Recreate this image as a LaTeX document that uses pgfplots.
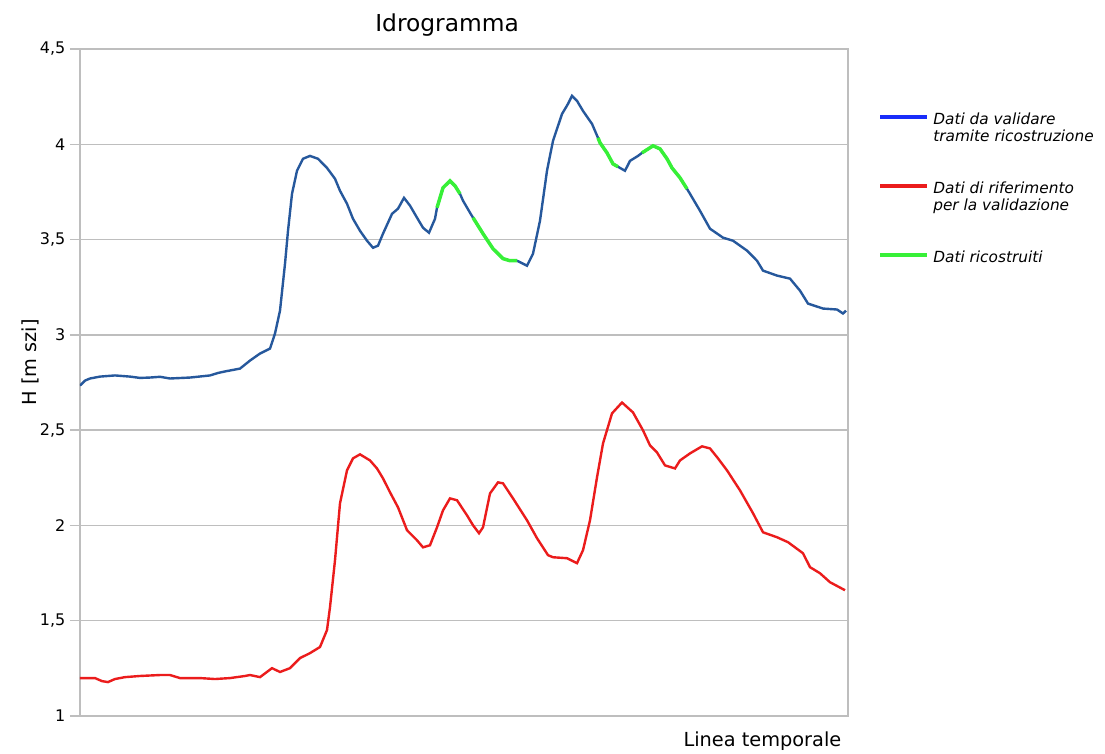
\documentclass[border=0pt]{standalone}
\usepackage{fontspec}
\setmainfont{DejaVu Sans}
\usepackage{pgfplots}
\pgfplotsset{compat=1.18}
\definecolor{bluecurve}{RGB}{38,88,156}
\definecolor{redcurve}{RGB}{235,28,28}
\definecolor{greencurve}{RGB}{55,240,55}
\definecolor{legblue}{RGB}{25,45,250}
\definecolor{gridgray}{RGB}{190,190,190}
\begin{document}
\begin{tikzpicture}
\path[use as bounding box] (-60pt,-27.75pt) rectangle (768.75pt,537pt);
\begin{axis}[
  at={(0,0)}, anchor=south west,
  scale only axis, width=576pt, height=500.25pt,
  xmin=0, xmax=768, ymin=1, ymax=4.5,
  xtick=\empty,
  ytick={1,1.5,2,2.5,3,3.5,4,4.5},
  axis line style={draw=gridgray, line width=1.2pt},
  ymajorgrids, grid style={gridgray, line width=1.1pt},
  tick pos=left, tick align=outside, major tick length=7.5pt,
  ytick style={gridgray, line width=1.1pt},
  yticklabel style={font=\fontsize{12}{14}\selectfont, /pgf/number format/.cd, use comma, fixed, assume math mode=true},
  title={Idrogramma},
  title style={at={(axis description cs:0.478,1)}, anchor=base, yshift=6.75pt, font=\fontsize{17.5}{20}\selectfont},
  xlabel={Linea temporale},
  xlabel style={at={(axis description cs:1,0)}, anchor=base east, xshift=-1.5pt, yshift=-22.5pt, font=\fontsize{14.5}{16}\selectfont},
  ylabel={H [m szi]},
  ylabel style={at={(axis description cs:-0.0651,0.53)}, anchor=center, font=\fontsize{14.5}{16}\selectfont},
  legend style={at={(axis description cs:1.0391,0.9085)}, anchor=north west, draw=none, fill=none, inner sep=0pt,
    font=\itshape\fontsize{11.5}{13}\selectfont, cells={anchor=base west, align=left}, row sep=24.5pt, column sep=1pt},
  legend image code/.code={\draw[#1] (0pt,5.5pt) -- (35.25pt,5.5pt);},
]
\addlegendimage{legblue, line width=3pt, yshift=13pt}
\addlegendentry{Dati da validare\\tramite ricostruzione}
\addlegendimage{redcurve, line width=3pt, yshift=13pt}
\addlegendentry{Dati di riferimento\\per la validazione}
\addlegendimage{greencurve, line width=3pt}
\addlegendentry{Dati ricostruiti}

\addplot[bluecurve, line width=1.8pt, forget plot] coordinates {
(0,2.734) (5,2.760) (10,2.771) (20,2.781) (35,2.787) (50,2.781) (60,2.774) (70,2.776) (80,2.780)
(90,2.771) (110,2.776) (130,2.787) (138,2.800) (145,2.808) (160,2.823) (170,2.865) (180,2.902)
(190,2.928) (195,3.007) (200,3.127) (205,3.373) (208,3.546) (212,3.740) (217,3.861) (223,3.924)
(230,3.939) (238,3.924) (247,3.876) (255,3.819) (260,3.756) (267,3.688) (273,3.609) (280,3.546)
(287,3.494) (293,3.457) (298,3.468) (303,3.531) (312,3.635) (318,3.662) (324,3.719) (330,3.678)
(337,3.615) (343,3.562) (349,3.536) (355,3.609) (357,3.667) (363,3.772) (370,3.808) (375,3.782)
(380,3.740) (383,3.704) (390,3.641) (393,3.615) (403,3.531) (413,3.452) (423,3.400) (430,3.389)
(437,3.389) (447,3.363) (453,3.426) (460,3.599) (467,3.861) (473,4.018) (482,4.159) (488,4.212)
(492,4.254) (497,4.228) (503,4.175) (512,4.107) (518,4.034) (520,4.008) (527,3.955) (533,3.897)
(538,3.882) (545,3.861) (550,3.913) (558,3.939) (562,3.955) (573,3.992) (580,3.976) (587,3.924)
(592,3.876) (600,3.824) (607,3.766) (610,3.740) (620,3.651) (630,3.557) (643,3.510) (653,3.494)
(667,3.442) (677,3.389) (683,3.337) (697,3.311) (710,3.295) (720,3.232) (728,3.164) (743,3.138)
(757,3.133) (763,3.112) (766,3.127)
};
\addplot[greencurve, line width=2.6pt, forget plot] coordinates {
(357,3.667) (363,3.772) (370,3.808) (375,3.782) (380,3.740)
};
\addplot[greencurve, line width=2.6pt, forget plot] coordinates {
(393,3.615) (403,3.531) (413,3.452) (423,3.400) (430,3.389) (437,3.389)
};
\addplot[greencurve, line width=2.6pt, forget plot] coordinates {
(518,4.034) (520,4.008) (527,3.955) (533,3.897) (538,3.882)
};
\addplot[greencurve, line width=2.6pt, forget plot] coordinates {
(562,3.955) (573,3.992) (580,3.976) (587,3.924) (592,3.876) (600,3.824) (607,3.766)
};
\addplot[redcurve, line width=1.8pt, forget plot] coordinates {
(0,1.199) (15,1.199) (22,1.183) (28,1.178) (35,1.194) (45,1.204) (60,1.210) (80,1.215) (90,1.215)
(100,1.199) (120,1.199) (135,1.194) (150,1.199) (165,1.210) (170,1.215) (180,1.204) (192,1.251)
(200,1.231) (210,1.251) (220,1.304) (230,1.330) (240,1.362) (247,1.451) (250,1.571) (255,1.817)
(260,2.116) (267,2.289) (273,2.352) (280,2.373) (290,2.341) (297,2.299) (303,2.247) (310,2.174)
(318,2.095) (327,1.975) (337,1.922) (343,1.885) (350,1.896) (357,1.990) (363,2.079) (370,2.142)
(377,2.132) (387,2.053) (393,2.001) (399,1.959) (403,1.990) (410,2.168) (418,2.226) (423,2.221)
(433,2.142) (447,2.027) (457,1.933) (468,1.844) (473,1.833) (487,1.828) (497,1.802) (503,1.870)
(510,2.027) (517,2.252) (523,2.430) (532,2.588) (542,2.645) (553,2.593) (563,2.499) (570,2.420)
(577,2.383) (585,2.315) (595,2.299) (600,2.341) (610,2.378) (622,2.415) (630,2.404) (638,2.352)
(647,2.289) (660,2.184) (673,2.064) (683,1.964) (697,1.938) (708,1.912) (723,1.854) (730,1.781)
(740,1.749) (750,1.702) (765,1.660)
};
\end{axis}
\end{tikzpicture}
\end{document}
